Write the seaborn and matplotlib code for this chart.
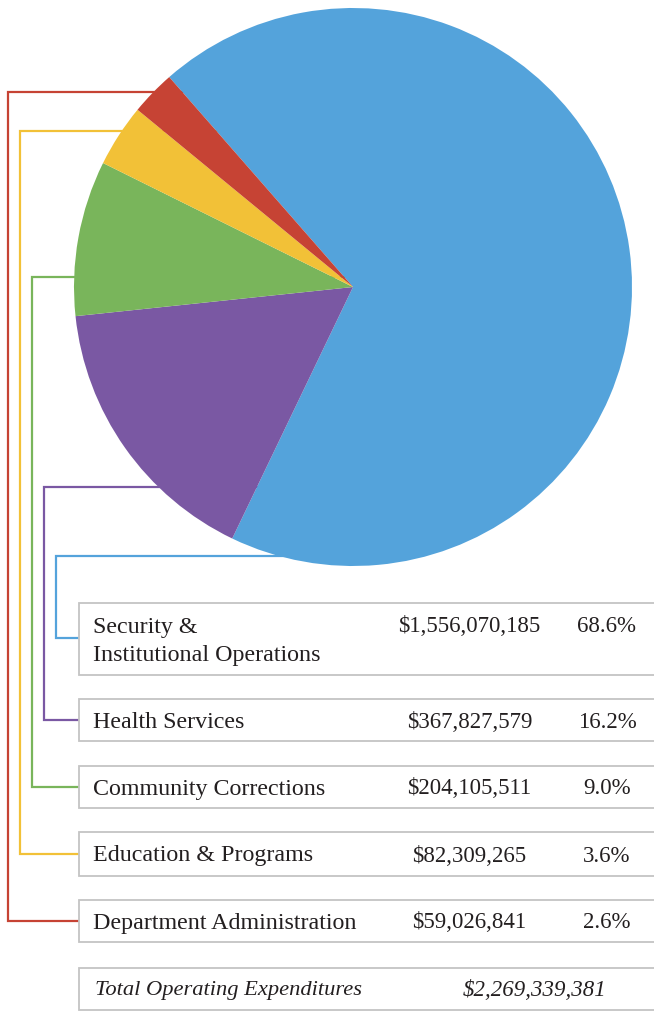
import matplotlib
matplotlib.use("Agg")
import matplotlib.pyplot as plt
from matplotlib.patches import Rectangle
import seaborn as sns

# ---- data ----
categories = ["Security &\nInstitutional Operations", "Health Services",
              "Community Corrections", "Education & Programs",
              "Department Administration"]
amounts = [1556070185, 367827579, 204105511, 82309265, 59026841]
amount_labels = ["$1,556,070,185", "$367,827,579", "$204,105,511",
                 "$82,309,265", "$59,026,841"]
percent_labels = ["68.6%", "16.2%", "9.0%", "3.6%", "2.6%"]
total_label = "Total Operating Expenditures"
total_amount_label = "$2,269,339,381"

colors = ["#54A3DB", "#7A58A3", "#79B55B", "#F2C137", "#C64334"]

sns.set_theme(style="white")
plt.rcParams["font.family"] = ["Liberation Serif", "DejaVu Serif"]

W, H = 654, 1011
fig = plt.figure(figsize=(W / 100, H / 100), dpi=100)
ax = fig.add_axes([0, 0, 1, 1])


def Y(p):
    return H - p


# ---- pie ----
cx, cy, R = 353, 287, 279
ax.pie(amounts, colors=colors, startangle=131.2, counterclock=False,
       center=(cx, Y(cy)), radius=R,
       wedgeprops=dict(linewidth=0, zorder=3))

# ---- boxes ----
box_rows = [(603, 675), (699, 741), (766, 808), (832, 876), (900, 942), (968, 1010)]
for top, bot in box_rows:
    ax.add_patch(Rectangle((79, Y(bot)), 640, bot - top, facecolor="white",
                           edgecolor="#c4c4c4", linewidth=1.3, zorder=2))

# ---- connectors ----
conn_x = [56, 44, 32, 20, 8]
conn_top = [556, 487, 277, 131, 92]
conn_end = [638, 720, 787, 854, 921]
for c, x, t, e in zip(colors, conn_x, conn_top, conn_end):
    ax.plot([cx, x, x, 79], [Y(t), Y(t), Y(e), Y(e)], color=c, lw=1.6,
            solid_joinstyle="miter", zorder=1)

# ---- texts ----
txt_color = "#231f20"
fs = 16.5
fs_lab = 17.3
text_y = [627, 722, 789, 856, 923]
for lab, am, pc, ty in zip(categories, amount_labels, percent_labels, text_y):
    for k, line in enumerate(lab.split("\n")):
        ax.text(93, Y(ty + 29 * k), line, fontsize=fs_lab, color=txt_color,
                ha="left", va="center", zorder=4)
    ax.text(469.5, Y(ty), am, fontsize=fs, color=txt_color, ha="center",
            va="center", zorder=4)
    ax.text(607, Y(ty), pc, fontsize=fs, color=txt_color, ha="center",
            va="center", zorder=4)

ax.text(95, Y(991), total_label, fontsize=16.2, style="italic", color=txt_color,
        ha="left", va="center", zorder=4)
ax.text(535, Y(991), total_amount_label, fontsize=fs, style="italic",
        color=txt_color, ha="center", va="center", zorder=4)

ax.set_xlim(0, W)
ax.set_ylim(0, H)
ax.set_aspect("auto")
ax.axis("off")

fig.savefig("out.png", dpi=100, facecolor="white")
